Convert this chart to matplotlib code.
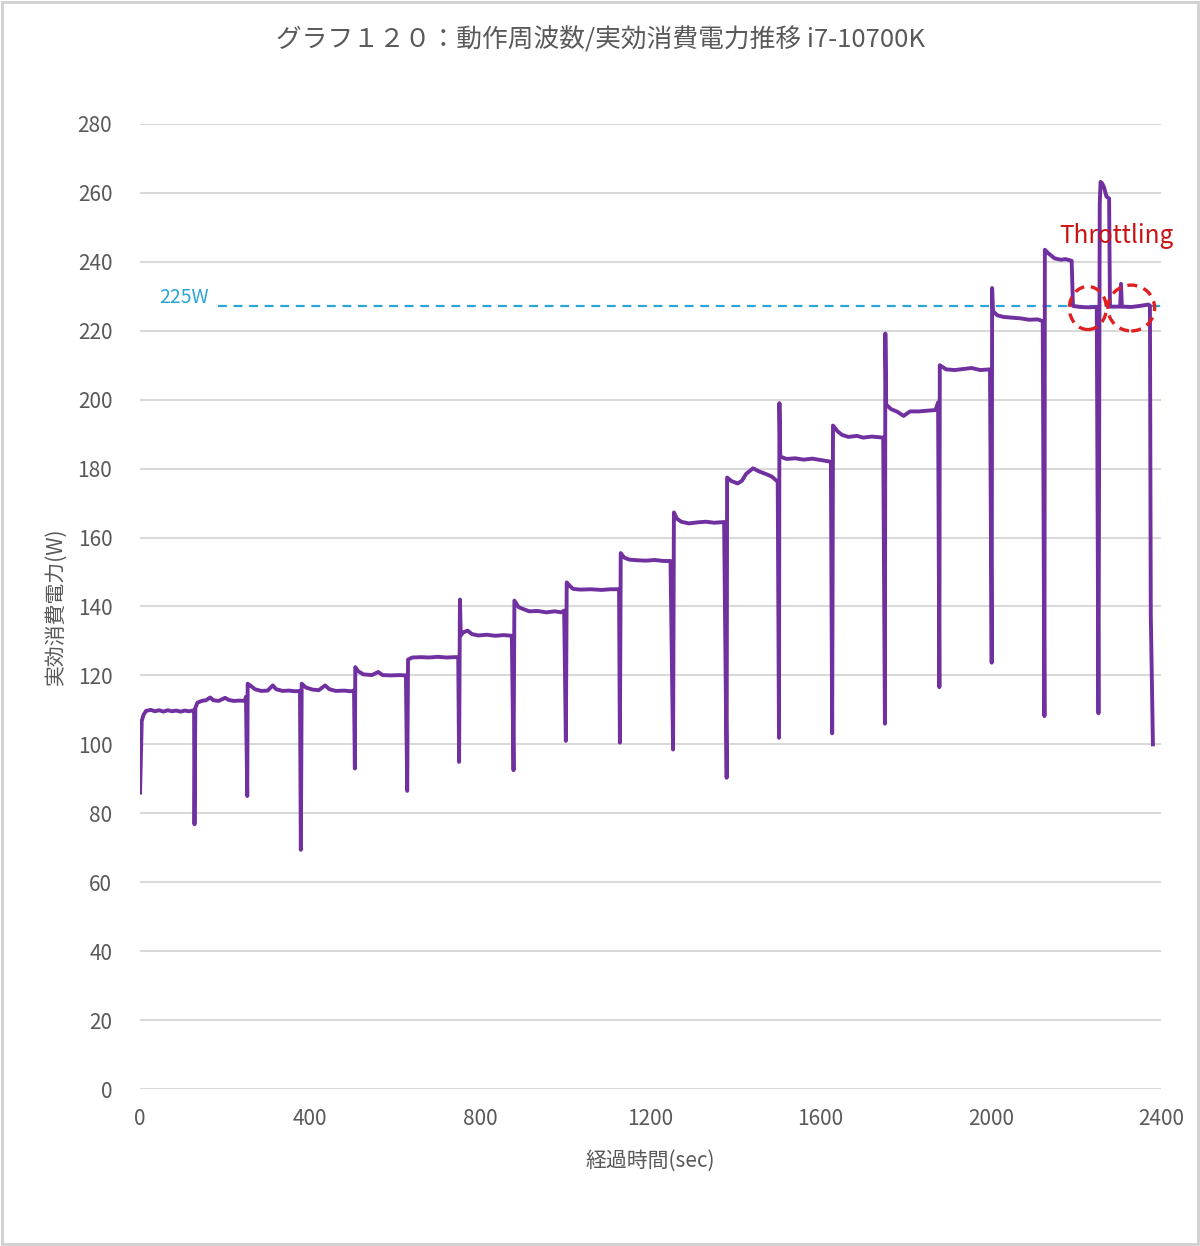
import matplotlib
matplotlib.use("Agg")
import matplotlib.pyplot as plt
from matplotlib.patches import Ellipse, Rectangle

plt.rcParams['font.family'] = ['Noto Sans CJK JP', 'DejaVu Sans']

# elapsed time (sec) and effective power (W)
t = [0, 4, 8, 14, 25, 35, 45, 55, 65, 75, 85, 95, 105, 115, 124, 127, 128,
     130, 135, 145, 155, 165, 172, 185, 200, 208, 220, 235, 246, 249, 252,
     253, 260, 270, 285, 300, 312, 320, 335, 350, 365, 376, 378,
     380, 390, 405, 420, 435, 445, 460, 480, 495, 503, 505,
     506, 512, 525, 545, 560, 570, 590, 610, 625, 628,
     630, 640, 660, 680, 700, 720, 740, 748, 750,
     752, 754, 760, 770, 780, 795, 815, 835, 855, 874, 878,
     880, 890, 900, 915, 935, 955, 975, 990, 997, 1001,
     1003, 1010, 1018, 1035, 1060, 1085, 1105, 1126, 1128,
     1130, 1138, 1150, 1170, 1190, 1210, 1230, 1247, 1253,
     1255, 1262, 1272, 1290, 1310, 1330, 1350, 1373, 1379,
     1380, 1390, 1405, 1415, 1425, 1441, 1455, 1470, 1485, 1499, 1502,
     1503, 1505, 1520, 1540, 1560, 1580, 1600, 1624, 1627,
     1629, 1640, 1650, 1665, 1685, 1700, 1720, 1747, 1751,
     1752, 1754, 1765, 1780, 1795, 1810, 1830, 1850, 1870, 1876, 1879,
     1880, 1895, 1915, 1935, 1955, 1975, 1998, 2002,
     2003, 2005, 2015, 2030, 2050, 2070, 2090, 2110, 2122, 2126,
     2127, 2135, 2150, 2165, 2175, 2190, 2193, 2210, 2230, 2249, 2253,
     2256, 2258, 2262, 2266, 2272, 2278, 2280, 2295, 2304, 2306, 2308,
     2330, 2350, 2370, 2374, 2376, 2381]
watt = [86, 106.8, 108.5, 109.7, 110, 109.6, 109.9, 109.5, 109.9, 109.6, 109.8, 109.5, 109.8, 109.6, 109.8, 109.9, 76.8,
        110.6, 112.1, 112.6, 112.8, 113.6, 112.8, 112.6, 113.5, 112.9, 112.6, 112.7, 112.6, 113.8, 85,
        117.6, 117, 116, 115.5, 115.6, 117.1, 116, 115.5, 115.6, 115.4, 115.5, 69.4,
        117.6, 116.5, 115.9, 115.7, 117.1, 116, 115.5, 115.6, 115.4, 115.6, 93,
        122.4, 121.3, 120.3, 120.1, 121, 120.1, 120, 120.1, 120, 86.5,
        124.6, 125.2, 125.3, 125.2, 125.4, 125.2, 125.3, 125.3, 94.9,
        142, 131.6, 132.5, 133, 132, 131.6, 131.8, 131.5, 131.7, 131.5, 92.5,
        141.7, 139.8, 139.3, 138.6, 138.7, 138.3, 138.6, 138.3, 138.8, 101,
        147, 146, 145.1, 144.9, 145, 144.8, 145, 145, 100.5,
        155.5, 154.2, 153.6, 153.4, 153.3, 153.5, 153.2, 153.2, 98.5,
        167.3, 165.5, 164.6, 164.1, 164.4, 164.6, 164.3, 164.5, 90.3,
        177.4, 176.4, 175.7, 176.5, 178.5, 180.1, 179.2, 178.5, 177.7, 176.2, 101.9,
        199, 183.5, 182.8, 183, 182.6, 182.9, 182.5, 182, 103.2,
        192.5, 190.8, 189.8, 189.2, 189.5, 189, 189.3, 189, 106,
        219.2, 198.6, 197.3, 196.5, 195.3, 196.6, 196.6, 196.8, 197, 199.2, 116.6,
        210, 208.8, 208.6, 208.9, 209.2, 208.6, 208.8, 123.7,
        232.4, 225.7, 224.5, 224, 223.8, 223.6, 223.2, 223.3, 222.8, 108.2,
        243.5, 242.5, 241, 240.6, 240.8, 240.3, 227.2, 226.9, 226.8, 226.9, 109,
        257, 263.2, 262.7, 261.6, 258.9, 258.4, 227, 227, 227, 233.6, 227,
        226.9, 227.2, 227.6, 227.3, 137.6, 100]

limit_w = 227.3
xticks = [0, 400, 800, 1200, 1600, 2000, 2400]
yticks = list(range(0, 281, 20))

fig = plt.figure(figsize=(12, 12.46), dpi=100)
ax = fig.add_axes([0.1167, 0.126, 0.8508, 0.7745])

ax.plot(t, watt, color='#7030a0', lw=2.8, zorder=3)

# 225W reference line
ax.plot([183, 2410], [limit_w, limit_w], ls=(0, (4, 3)), color='#2aa6d6', lw=1.6, clip_on=False, zorder=2)
ax.text(45, limit_w + 2.3, '225W', color='#2aa6d6', fontsize=14, va='center', ha='left')

# throttling marks
ax.add_patch(Ellipse((2228, 226.6), 87, 12.5, fill=False, ec='#e02020', ls=(0, (3, 2)), lw=2.4, zorder=4))
ax.add_patch(Ellipse((2330, 226.6), 110, 13.3, fill=False, ec='#e02020', ls=(0, (3, 2)), lw=2.4, zorder=4))
ax.text(2160, 247.5, 'Throttling', color='#cc1111', fontsize=17.5, va='center', ha='left', zorder=5)

ax.set_xlim(0, 2400)
ax.set_ylim(0, 280)
ax.set_xticks(xticks)
ax.set_yticks(yticks)
ax.tick_params(length=0, labelsize=15, labelcolor='#595959')
ax.tick_params(axis='y', pad=20)
ax.tick_params(axis='x', pad=14)
ax.grid(axis='y', color='#d9d9d9', lw=1.5)
ax.set_axisbelow(True)
for s in ax.spines.values():
    s.set_visible(False)

ax.set_xlabel('経過時間(sec)', fontsize=15, color='#595959', labelpad=14)
ax.set_ylabel('実効消費電力(W)', fontsize=15, color='#595959', labelpad=8)
fig.text(0.5, 0.968, 'グラフ１２０：動作周波数/実効消費電力推移 i7-10700K',
         ha='center', va='center', fontsize=18.5, color='#595959')

# outer frame
fig.patches.append(Rectangle((0.002, 0.002), 0.996, 0.996, transform=fig.transFigure,
                             fill=False, ec='#d0d0d0', lw=2))

plt.savefig('out.png', dpi=100)
